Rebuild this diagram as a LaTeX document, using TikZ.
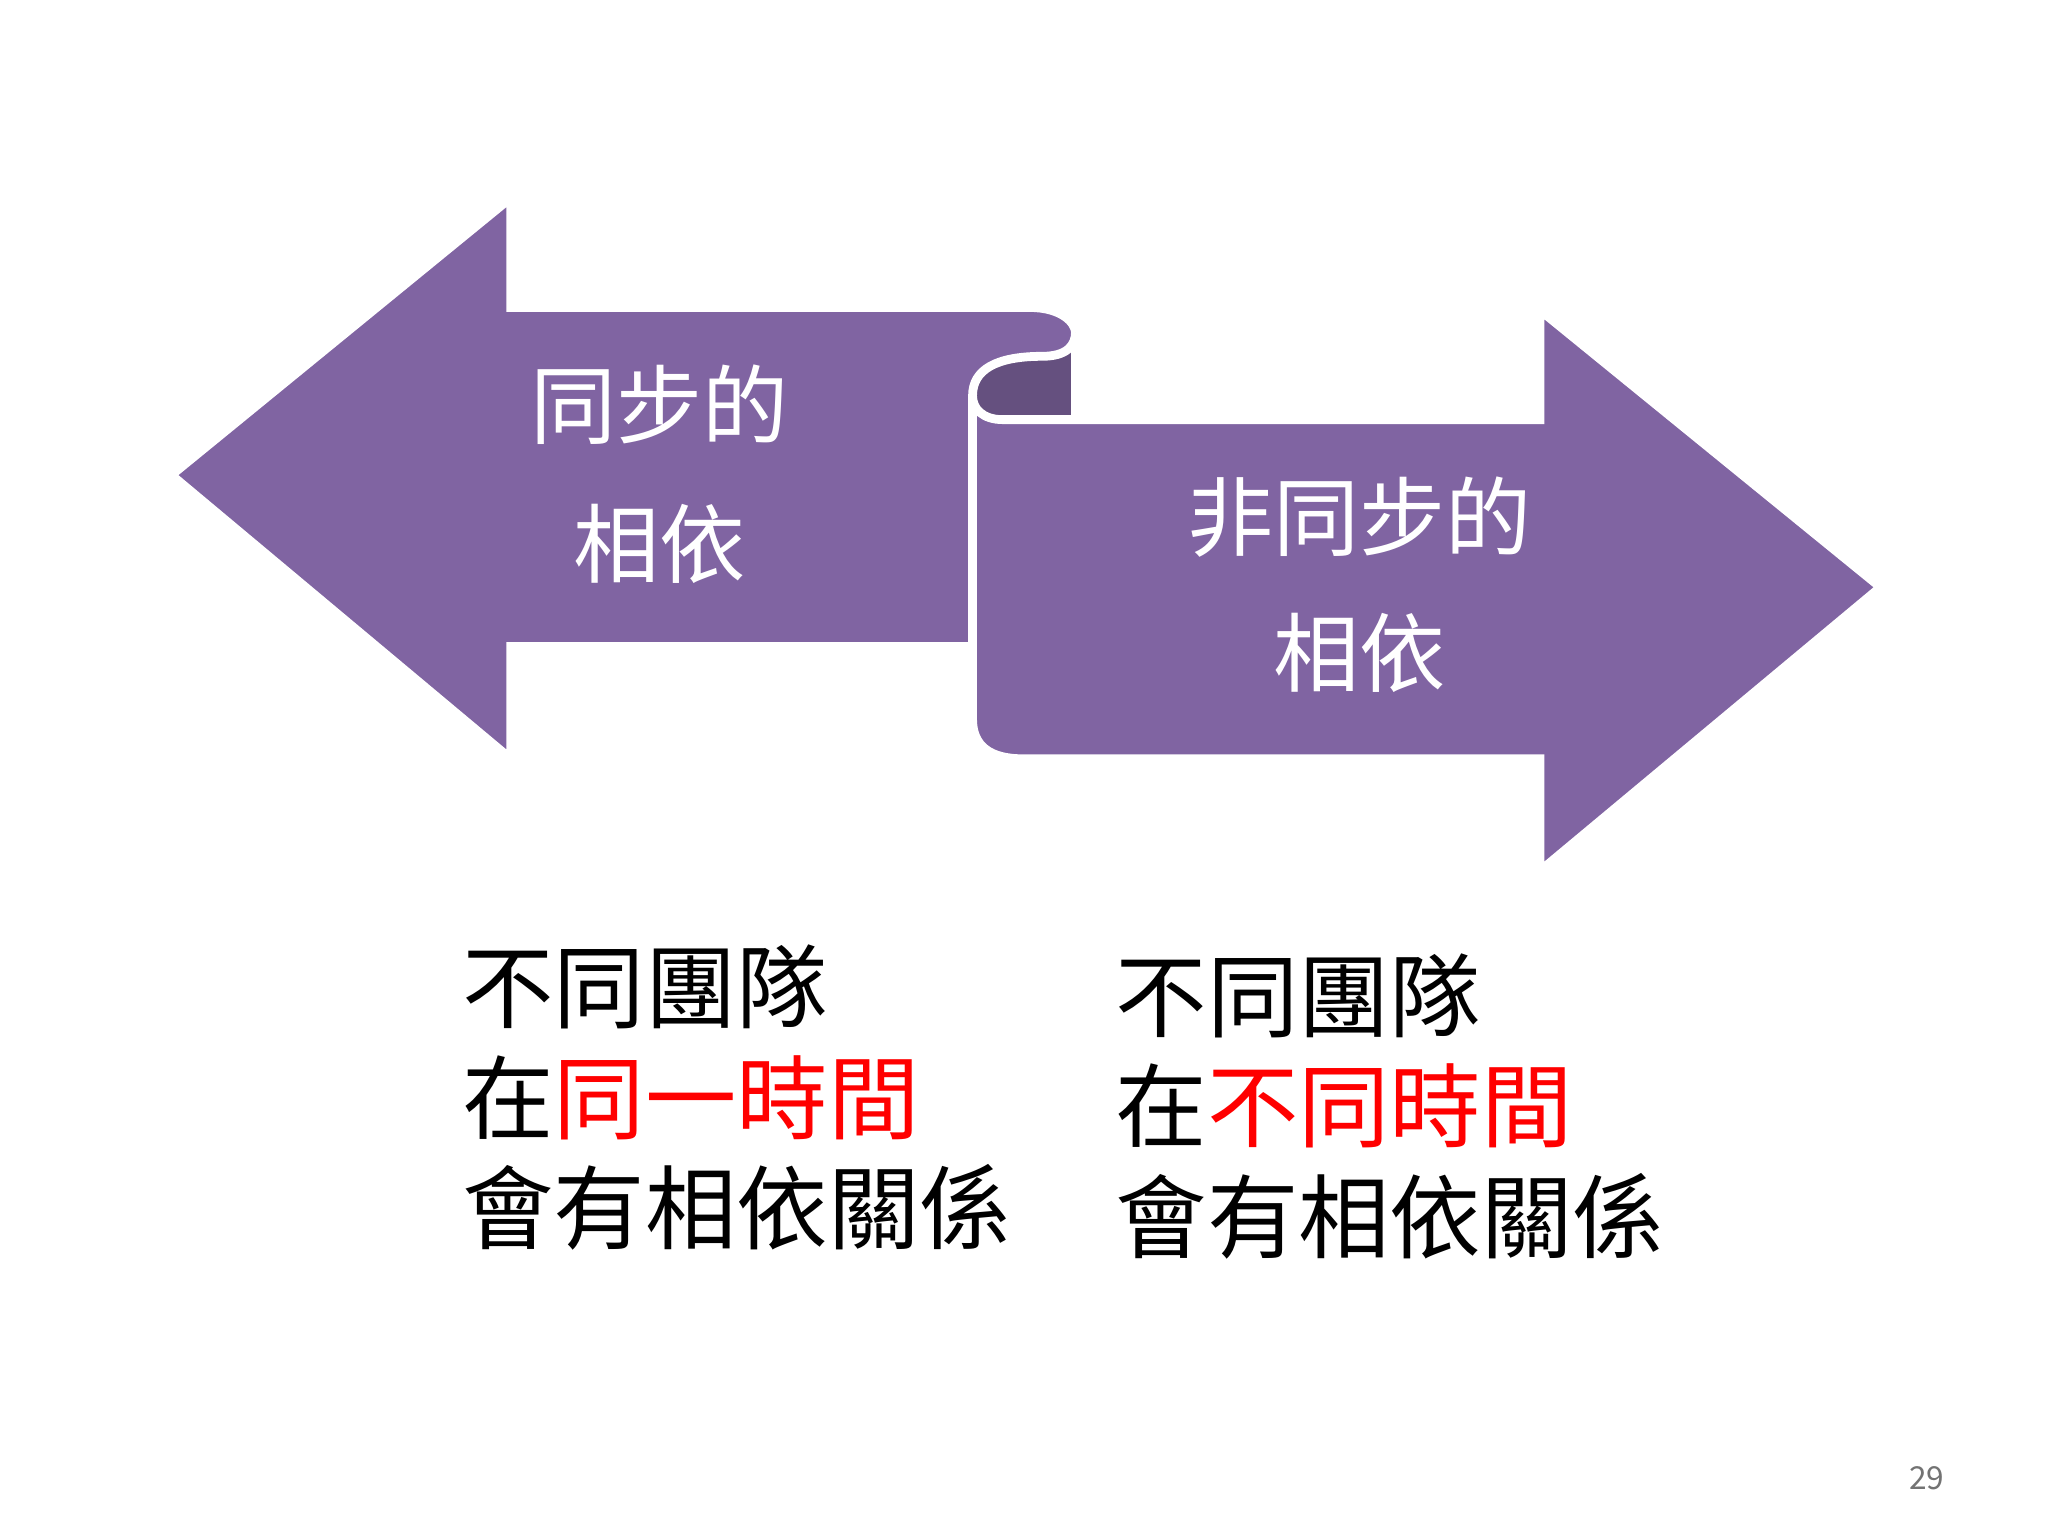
\documentclass[tikz,border=0pt]{standalone}
\usepackage{fontspec}
\newfontfamily\cjk{Noto Sans CJK TC}
\definecolor{pur}{HTML}{8064A2}
\definecolor{dpur}{HTML}{65507F}
\definecolor{myred}{HTML}{FF0000}
\begin{document}
\begin{tikzpicture}[x=0.013196cm,y=-0.013196cm,
  arrowshape/.style={fill=pur,draw=white,line width=2.5pt,line join=miter},
  lbl/.style={text=white,font=\cjk\fontsize{24.5}{28}\selectfont},
  body/.style={anchor=west,font=\cjk\fontsize{26}{32}\selectfont,inner sep=0pt}]
\useasboundingbox (0,0) rectangle (1552,1164);
% left arrow
\draw[arrowshape] (130,360) -- (387,150) -- (387,233) -- (780,233)
  .. controls (805,233) and (815,245) .. (815,252) -- (815,318) -- (737,318) -- (737,490)
  -- (387,490) -- (387,575) -- cycle;
% scroll dark part
\draw[fill=dpur,draw=white,line width=2.5pt] (737,300) .. controls (737,280) and (755,270) .. (790,270)
  .. controls (808,270) and (815,262) .. (815,252) -- (815,318) -- (737,318) -- cycle;
% right arrow
\draw[arrowshape] (737,300) .. controls (737,310) and (745,318) .. (760,318) -- (1167,318) -- (1167,235) -- (1425,445)
  -- (1167,660) -- (1167,575) -- (775,575) .. controls (750,575) and (737,565) .. (737,545) -- cycle;
% labels
\node[lbl] (a1) at (500,307) {同步的};
\node[lbl] (a2) at (500,412) {相依};
\node[lbl] (b1) at (1030,392) {非同步的};
\node[lbl] (b2) at (1030,495) {相依};
% bottom text
\node[body] (l1) at (350,748) {不同團隊};
\node[body] (l2) at (350,832) {在\textcolor{myred}{同一時間}};
\node[body] (l3) at (350,915) {會有相依關係};
\node[body] (r1) at (845,755) {不同團隊};
\node[body] (r2) at (845,838) {在\textcolor{myred}{不同時間}};
\node[body] (r3) at (845,922) {會有相依關係};
\node[text=black!55,font=\cjk\fontsize{9}{11}\selectfont] (pg) at (1460,1120) {29};
\end{tikzpicture}
\end{document}
